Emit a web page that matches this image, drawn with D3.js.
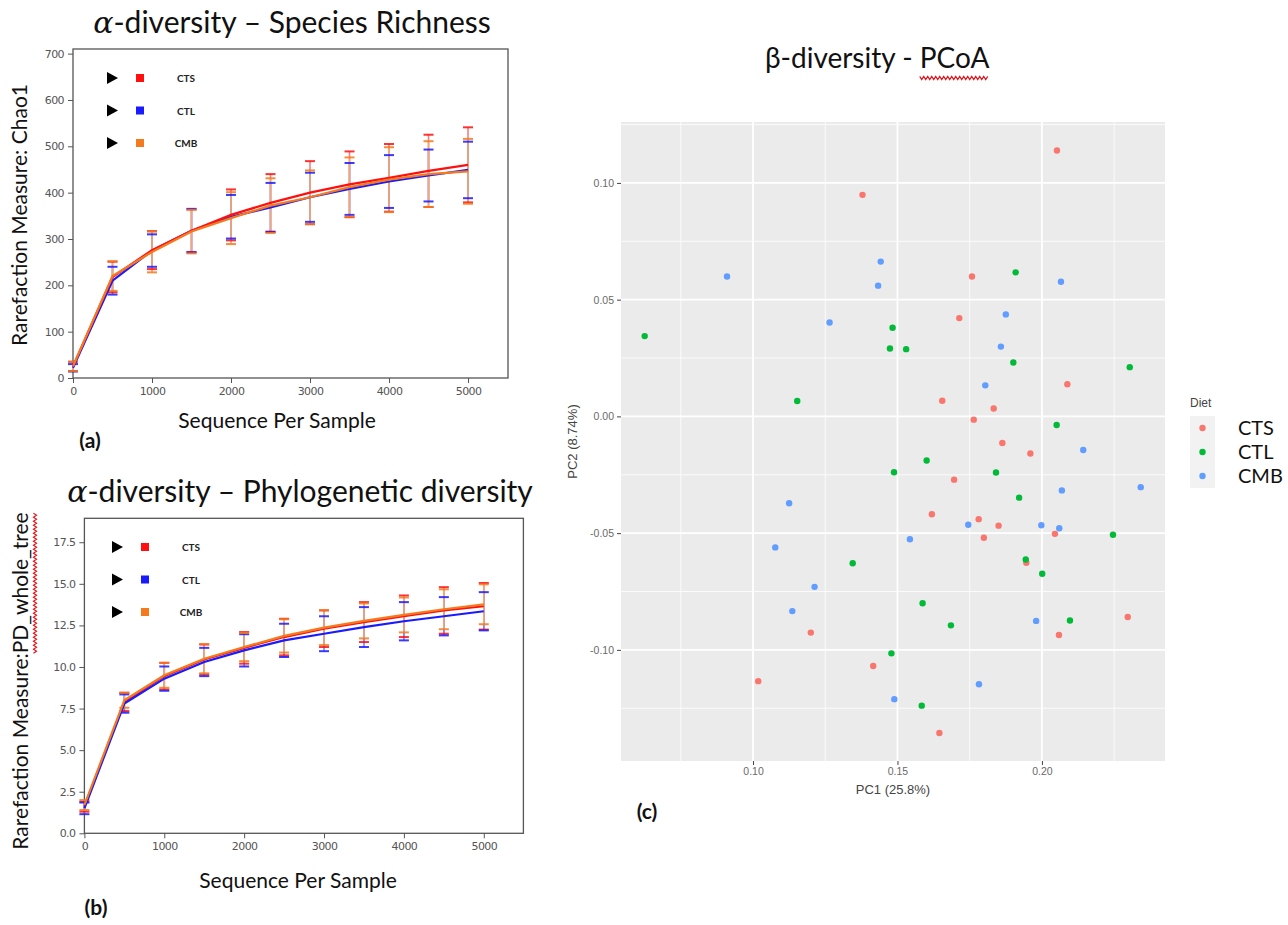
<!DOCTYPE html>
<html>
<head>
<meta charset="utf-8">
<script src="https://cdn.jsdelivr.net/npm/d3@7"></script>
<style>
body { margin: 0; background: #fff; }
svg { display: block; }
</style>
</head>
<body>
<svg></svg>
<script>
const W = 1288, H = 925;

// rarefaction depths (sequences per sample)
const depths = [0, 500, 1000, 1500, 2000, 2500, 3000, 3500, 4000, 4500, 5000];
const groups = ["CTS", "CTL", "CMB"];

// (a) Chao1 richness, mean and error per depth
const chao1_cts    = [25, 218, 276, 318, 352, 378, 400, 418, 432, 447, 460];
const chao1_cts_sd = [10, 33, 41, 46, 55, 62, 68, 71, 73, 78, 81];
const chao1_ctl    = [22, 210, 275, 318, 348, 368, 390, 408, 424, 437, 449];
const chao1_ctl_sd = [8, 30, 35, 47, 47, 53, 53, 56, 57, 56, 61];
const chao1_cmb    = [25, 220, 272, 316, 345, 372, 390, 412, 428, 440, 446];
const chao1_cmb_sd = [10, 32, 44, 47, 56, 59, 58, 64, 70, 71, 70];

// (b) PD whole tree, mean and error per depth
const pd_cts    = [1.6, 7.9, 9.45, 10.45, 11.15, 11.8, 12.3, 12.7, 13.05, 13.4, 13.65];
const pd_cts_sd = [0.3, 0.55, 0.8, 0.9, 0.95, 1.1, 1.1, 1.2, 1.25, 1.4, 1.4];
const pd_ctl    = [1.5, 7.8, 9.3, 10.3, 11.0, 11.6, 12.0, 12.4, 12.75, 13.05, 13.35];
const pd_ctl_sd = [0.35, 0.55, 0.73, 0.85, 0.97, 1.0, 1.05, 1.2, 1.15, 1.15, 1.15];
const pd_cmb    = [1.7, 8.0, 9.5, 10.5, 11.2, 11.87, 12.37, 12.77, 13.13, 13.47, 13.77];
const pd_cmb_sd = [0.3, 0.45, 0.75, 0.88, 0.85, 1.0, 1.05, 1.05, 1.05, 1.2, 1.2];

// (c) PCoA coordinates per sample
const cts_pc1 = [0.2052, 0.1379, 0.1758, 0.1714, 0.2088, 0.1655, 0.1833, 0.1764, 0.1863, 0.1960, 0.1696, 0.1619,
                 0.1781, 0.1850, 0.2045, 0.1799, 0.1946, 0.2297, 0.2059, 0.1416, 0.1645, 0.1200, 0.1018];
const cts_pc2 = [0.1139, 0.0949, 0.0599, 0.0421, 0.0138, 0.0067, 0.0034, -0.0014, -0.0114, -0.0159, -0.0271, -0.0419,
                 -0.0440, -0.0468, -0.0503, -0.0520, -0.0627, -0.0859, -0.0936, -0.1069, -0.1356, -0.0926, -0.1134];
const ctl_pc1 = [0.0625, 0.1483, 0.1474, 0.1530, 0.1153, 0.1909, 0.1901, 0.2304, 0.2051, 0.1601, 0.1488,
                 0.1841, 0.1921, 0.2246, 0.1944, 0.2001, 0.1587, 0.1685, 0.2097, 0.1479, 0.1584, 0.1345];
const ctl_pc2 = [0.0344, 0.0380, 0.0291, 0.0288, 0.0066, 0.0617, 0.0231, 0.0211, -0.0037, -0.0189, -0.0239,
                 -0.0240, -0.0348, -0.0507, -0.0613, -0.0674, -0.0800, -0.0895, -0.0874, -0.1015, -0.1239, -0.0629];
const cmb_pc1 = [0.1442, 0.0910, 0.1433, 0.1265, 0.2066, 0.1875, 0.1858, 0.1804, 0.2143, 0.2069, 0.2342,
                 0.1745, 0.1998, 0.2060, 0.1543, 0.1980, 0.1782, 0.1489, 0.1125, 0.1077, 0.1213, 0.1136];
const cmb_pc2 = [0.0663, 0.0599, 0.0560, 0.0402, 0.0577, 0.0437, 0.0299, 0.0133, -0.0144, -0.0317, -0.0303,
                 -0.0464, -0.0466, -0.0479, -0.0526, -0.0876, -0.1147, -0.1211, -0.0372, -0.0561, -0.0730, -0.0834];

// tick values
const depth_ticks = [0, 1000, 2000, 3000, 4000, 5000];
const chao1_ticks = [0, 100, 200, 300, 400, 500, 600, 700];
const pd_ticks = [0, 2.5, 5, 7.5, 10, 12.5, 15, 17.5];
const pc1_ticks = [0.10, 0.15, 0.20];
const pc2_ticks = [-0.10, -0.05, 0.00, 0.05, 0.10];

const rareColors = {CTS: "#ff1010", CTL: "#1a1aff", CMB: "#f57a1e"};
// lighter tones used for the error bar stems
const stemColors = {CTS: "#f58080", CTL: "#8080ff", CMB: "#f5a86e"};
const ggColors = {CTS: "#F8766D", CTL: "#00BA38", CMB: "#619CFF"};

const svg = d3.select("svg").attr("width", W).attr("height", H);

// red spell-check wave along a straight segment
let squiggle = (x0, y0, x1, y1) => {
    const len = Math.hypot(x1 - x0, y1 - y0), n = Math.floor(len / 2);
    const ux = (x1 - x0) / len, uy = (y1 - y0) / len;
    const pts = d3.range(n + 1).map(i => {
        const o = i % 2 ? 1.6 : -1.6;
        return [x0 + ux * i * 2 - uy * o, y0 + uy * i * 2 + ux * o];
    });
    return d3.line()(pts);
};

// title with an italic math alpha in front
let alphaTitle = (x, y, rest) => {
    const t = svg.append("text").attr("x", x).attr("y", y)
        .attr("text-anchor", "middle")
        .style("font-family", "Lato, 'Open Sans', sans-serif").style("font-size", "30px").attr("fill", "#111");
    t.append("tspan").text("\u03b1").style("font-family", "'DejaVu Serif', serif").style("font-style", "italic");
    t.append("tspan").text(rest);
};

let rarefaction = (cfg) => {
    const x = d3.scaleLinear().domain([0, cfg.xmax]).range([cfg.left, cfg.right]);
    const y = d3.scaleLinear().domain([0, cfg.ymax]).range([cfg.bottom, cfg.top]);
    const g = svg.append("g");

    const axFont = (sel) => sel.selectAll("text")
        .style("font-family", "'DejaVu Sans', sans-serif").style("font-size", "11px")
        .attr("fill", "#555").attr("letter-spacing", "-0.6px");

    g.append("g").attr("transform", `translate(0,${cfg.bottom})`)
        .call(d3.axisBottom(x).tickValues(depth_ticks).tickSize(5).tickPadding(4).tickFormat(d3.format("d")))
        .call(a => a.select(".domain").remove())
        .call(a => a.selectAll("line").attr("stroke", "#555"))
        .call(axFont);
    g.append("g").attr("transform", `translate(${cfg.left},0)`)
        .call(d3.axisLeft(y).tickValues(cfg.yticks).tickSize(5).tickPadding(4).tickFormat(cfg.yfmt))
        .call(a => a.select(".domain").remove())
        .call(a => a.selectAll("line").attr("stroke", "#555"))
        .call(axFont);

    g.append("rect").attr("x", cfg.left).attr("y", cfg.top)
        .attr("width", cfg.right - cfg.left).attr("height", cfg.bottom - cfg.top)
        .attr("fill", "none").attr("stroke", "#555").attr("stroke-width", 1.3);

    // error bar stems, orange drawn last so it sits on top
    cfg.series.forEach(s => {
        g.append("g").selectAll("line").data(depths).enter().append("line")
            .attr("x1", d => x(d)).attr("x2", d => x(d))
            .attr("y1", (d, i) => y(s.mean[i] - s.sd[i])).attr("y2", (d, i) => y(s.mean[i] + s.sd[i]))
            .attr("stroke", stemColors[s.name]).attr("stroke-width", 1.6);
    });
    // error bar caps
    cfg.series.forEach(s => {
        [-1, 1].forEach(k => {
            g.append("g").selectAll("line").data(depths).enter().append("line")
                .attr("x1", d => x(d) - 5).attr("x2", d => x(d) + 5)
                .attr("y1", (d, i) => y(s.mean[i] + k * s.sd[i])).attr("y2", (d, i) => y(s.mean[i] + k * s.sd[i]))
                .attr("stroke", s.color).attr("stroke-width", 2).attr("opacity", 0.85);
        });
    });

    // mean curves
    const line = d3.line().x((d, i) => x(depths[i])).y(d => y(d));
    cfg.lineOrder.forEach(name => {
        const s = cfg.series.find(v => v.name === name);
        g.append("path").datum(s.mean).attr("d", line)
            .attr("fill", "none").attr("stroke", s.color).attr("stroke-width", 2.2);
    });

    // legend: pointer, swatch, name
    cfg.series.forEach((s, i) => {
        const ly = cfg.legY + i * cfg.legStep;
        g.append("path").attr("d", `M${cfg.legX - 5},${ly - 6}L${cfg.legX + 6},${ly}L${cfg.legX - 5},${ly + 6}Z`).attr("fill", "#000");
        g.append("rect").attr("x", cfg.legX + 24).attr("y", ly - 4).attr("width", 8).attr("height", 8).attr("fill", s.color);
        g.append("text").attr("x", cfg.legX + 74).attr("y", ly + 4).attr("text-anchor", "middle")
            .style("font-family", "Lato, sans-serif").style("font-size", "10px").style("font-weight", "bold")
            .attr("fill", "#222").text(s.name);
    });

    // axis titles
    g.append("text").attr("x", cfg.xlabX).attr("y", cfg.xlabY).attr("text-anchor", "middle")
        .style("font-family", "Lato, sans-serif").style("font-size", "21px").attr("fill", "#111")
        .text("Sequence Per Sample");
    const yl = g.append("g").attr("transform", `translate(${cfg.ylabX},${cfg.ylabY}) rotate(-90)`);
    const ylt = yl.append("text").attr("text-anchor", "middle")
        .style("font-family", "Lato, sans-serif").style("font-size", "21px").attr("fill", "#111")
        .text(cfg.ylabel);
    if (cfg.wavyFrom != null) {
        const n = ylt.node();
        const a = n.getStartPositionOfChar(cfg.wavyFrom).x;
        const b = n.getEndPositionOfChar(cfg.ylabel.length - 1).x;
        yl.append("path").attr("d", squiggle(a, 7, b, 7)).attr("fill", "none").attr("stroke", "#e8141c").attr("stroke-width", 1.1);
    }

    g.append("text").attr("x", cfg.tagX).attr("y", cfg.tagY).attr("text-anchor", "middle")
        .style("font-family", "Lato, sans-serif").style("font-size", "21px").style("font-weight", "bold")
        .attr("fill", "#111").text(cfg.tag);
};

// panel (a)
alphaTitle(292, 33, "-diversity \u2013 Species Richness");
rarefaction({
    left: 73, right: 508, top: 49, bottom: 378, xmax: 5506, ymax: 710,
    yticks: chao1_ticks, yfmt: d3.format("d"),
    series: [
        {name: "CTS", color: rareColors.CTS, mean: chao1_cts, sd: chao1_cts_sd},
        {name: "CTL", color: rareColors.CTL, mean: chao1_ctl, sd: chao1_ctl_sd},
        {name: "CMB", color: rareColors.CMB, mean: chao1_cmb, sd: chao1_cmb_sd}
    ],
    lineOrder: ["CTL", "CTS", "CMB"],
    legX: 112, legY: 78, legStep: 32.5,
    xlabX: 277, xlabY: 428,
    ylabX: 27, ylabY: 215, ylabel: "Rarefaction Measure: Chao1", wavyFrom: null,
    tag: "(a)", tagX: 90, tagY: 448
});

// panel (b)
alphaTitle(300, 502, "-diversity \u2013 Phylogenetic diversity");
rarefaction({
    left: 84.4, right: 523.4, top: 518.3, bottom: 833.3, xmax: 5496, ymax: 18.94,
    yticks: pd_ticks, yfmt: d3.format(".1f"),
    series: [
        {name: "CTS", color: rareColors.CTS, mean: pd_cts, sd: pd_cts_sd},
        {name: "CTL", color: rareColors.CTL, mean: pd_ctl, sd: pd_ctl_sd},
        {name: "CMB", color: rareColors.CMB, mean: pd_cmb, sd: pd_cmb_sd}
    ],
    lineOrder: ["CTS", "CTL", "CMB"],
    legX: 117, legY: 547, legStep: 32.5,
    xlabX: 298, xlabY: 888,
    ylabX: 28, ylabY: 681, ylabel: "Rarefaction Measure:PD_whole_tree", wavyFrom: 20,
    tag: "(b)", tagX: 96, tagY: 915
});

// panel (c): PCoA scatter, ggplot look
{
    const L = 621, R = 1165, T = 122, B = 761;
    const x = d3.scaleLinear().domain([0.0543, 0.2426]).range([L, R]);
    const y = d3.scaleLinear().domain([-0.1476, 0.1261]).range([B, T]);
    const g = svg.append("g");

    const title = g.append("text").attr("x", 765).attr("y", 68)
        .style("font-family", "Lato, sans-serif").style("font-size", "28px").attr("fill", "#111")
        .text("\u03b2-diversity - PCoA");
    const tn = title.node(), tl = tn.getNumberOfChars();
    const wa = tn.getStartPositionOfChar(tl - 4).x, wb = tn.getEndPositionOfChar(tl - 1).x;
    g.append("path").attr("d", squiggle(wa, 78, wb, 78)).attr("fill", "none").attr("stroke", "#e8141c").attr("stroke-width", 1.1);

    g.append("rect").attr("x", L).attr("y", T).attr("width", R - L).attr("height", B - T).attr("fill", "#EBEBEB");

    const minorX = [0.075, 0.125, 0.175, 0.225];
    const minorY = [-0.125, -0.075, -0.025, 0.025, 0.075, 0.125];
    g.append("g").selectAll("line").data(minorX).enter().append("line")
        .attr("x1", d => x(d)).attr("x2", d => x(d)).attr("y1", T).attr("y2", B)
        .attr("stroke", "#fff").attr("stroke-width", 0.8);
    g.append("g").selectAll("line").data(minorY).enter().append("line")
        .attr("y1", d => y(d)).attr("y2", d => y(d)).attr("x1", L).attr("x2", R)
        .attr("stroke", "#fff").attr("stroke-width", 0.8);
    g.append("g").selectAll("line").data(pc1_ticks).enter().append("line")
        .attr("x1", d => x(d)).attr("x2", d => x(d)).attr("y1", T).attr("y2", B)
        .attr("stroke", "#fff").attr("stroke-width", 1.8);
    g.append("g").selectAll("line").data(pc2_ticks).enter().append("line")
        .attr("y1", d => y(d)).attr("y2", d => y(d)).attr("x1", L).attr("x2", R)
        .attr("stroke", "#fff").attr("stroke-width", 1.8);

    const ggFont = (sel) => sel.selectAll("text")
        .style("font-family", "'Liberation Sans', Arial, sans-serif").style("font-size", "10.5px").attr("fill", "#6a6a6a");
    g.append("g").attr("transform", `translate(0,${B})`)
        .call(d3.axisBottom(x).tickValues(pc1_ticks).tickSize(4).tickPadding(3).tickFormat(d3.format(".2f")))
        .call(a => a.select(".domain").remove())
        .call(a => a.selectAll("line").attr("stroke", "#444"))
        .call(ggFont);
    g.append("g").attr("transform", `translate(${L},0)`)
        .call(d3.axisLeft(y).tickValues(pc2_ticks).tickSize(4).tickPadding(3).tickFormat(d3.format(".2f")))
        .call(a => a.select(".domain").remove())
        .call(a => a.selectAll("line").attr("stroke", "#444"))
        .call(a => a.selectAll("text").text(d => d3.format(".2f")(d).replace("\u2212", "-")))
        .call(ggFont);

    const samples = [
        {name: "CTS", pc1: cts_pc1, pc2: cts_pc2},
        {name: "CTL", pc1: ctl_pc1, pc2: ctl_pc2},
        {name: "CMB", pc1: cmb_pc1, pc2: cmb_pc2}
    ];
    samples.forEach(s => {
        g.append("g").selectAll("circle").data(s.pc1).enter().append("circle")
            .attr("cx", d => x(d)).attr("cy", (d, i) => y(s.pc2[i])).attr("r", 3.2)
            .attr("fill", ggColors[s.name]);
    });

    g.append("text").attr("x", (L + R) / 2).attr("y", 794).attr("text-anchor", "middle")
        .style("font-family", "'Liberation Sans', Arial, sans-serif").style("font-size", "13px").attr("fill", "#444")
        .text("PC1 (25.8%)");
    g.append("text").attr("transform", `translate(577,${(T + B) / 2}) rotate(-90)`).attr("text-anchor", "middle")
        .style("font-family", "'Liberation Sans', Arial, sans-serif").style("font-size", "13px").attr("fill", "#444")
        .text("PC2 (8.74%)");

    // legend
    g.append("text").attr("x", 1190).attr("y", 407)
        .style("font-family", "'Liberation Sans', Arial, sans-serif").style("font-size", "12px").attr("fill", "#444")
        .text("Diet");
    g.append("rect").attr("x", 1190).attr("y", 416).attr("width", 25).attr("height", 72).attr("fill", "#F2F2F2");
    groups.forEach((name, i) => {
        const ly = 428 + i * 24;
        g.append("circle").attr("cx", 1202.5).attr("cy", ly).attr("r", 3.2).attr("fill", ggColors[name]);
        g.append("text").attr("x", 1238).attr("y", ly + 7)
            .style("font-family", "Lato, sans-serif").style("font-size", "20px").attr("fill", "#111")
            .text(name);
    });

    g.append("text").attr("x", 647).attr("y", 819).attr("text-anchor", "middle")
        .style("font-family", "Lato, sans-serif").style("font-size", "21px").style("font-weight", "bold")
        .attr("fill", "#111").text("(c)");
}
</script>
</body>
</html>
